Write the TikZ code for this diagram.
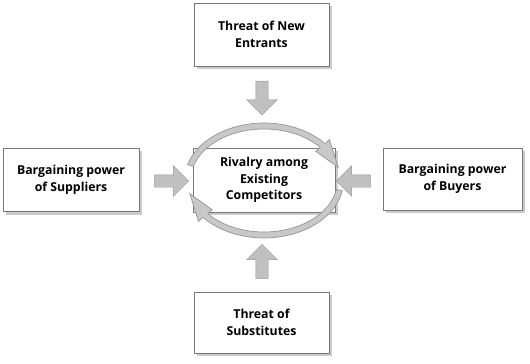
\documentclass[tikz,border=0pt]{standalone}
\usepackage{fontspec}
\setmainfont{Open Sans}
\usetikzlibrary{shapes.arrows,shadows}

\definecolor{boxline}{RGB}{120,120,120}
\definecolor{arrowfill}{RGB}{192,192,192}
\definecolor{arrowline}{RGB}{150,150,150}
\definecolor{ringfill}{RGB}{200,200,200}

% curved arrow round the centre box: start angle, head base, tip
\newcommand{\rivalryring}[3]{
	\filldraw[ringpart] plot[domain=#1:#2, samples=40] ({264+79.5*cos(\x)}, {180.5+57.5*sin(\x)})
		-- ({264+85.5*cos(#2)}, {180.5+63.5*sin(#2)})
		-- ({264+76.5*cos(#3)}, {180.5+54.5*sin(#3)})
		-- ({264+67.5*cos(#2)}, {180.5+45.5*sin(#2)})
		-- plot[domain=#2:#1, samples=40] ({264+73.5*cos(\x)}, {180.5+51.5*sin(\x)}) -- cycle;
}

\tikzset{
	force/.style={draw=boxline, fill=white, align=center, minimum width=4.05cm, minimum height=1.9cm,
		font=\bfseries\fontsize{10.5}{14}\selectfont,
		drop shadow={shadow xshift=2.5pt, shadow yshift=-2.5pt, fill=black!45, opacity=0.45}},
	pusharrow/.style={single arrow, draw=arrowline, fill=arrowfill, inner sep=0.18cm,
		single arrow head extend=0.27cm, minimum height=1.02cm},
	ringpart/.style={draw=arrowline, fill=ringfill, line width=0.6pt}
}

\begin{document}
\begin{tikzpicture}[x=0.03cm, y=-0.03cm]
	\useasboundingbox (0,0) rectangle (530,364);
	% five forces
	\node[force] (entrants) at (261.5,34.5) {Threat of New\\Entrants};
	\node[force, minimum width=4.26cm, minimum height=1.92cm] (rivalry) at (264,180) {Rivalry among\\Existing\\Competitors};
	\node[force, minimum width=4.08cm] (suppliers) at (71,180) {Bargaining power\\of Suppliers};
	\node[force, minimum width=4.17cm, minimum height=1.86cm] (buyers) at (452.5,179) {Bargaining power\\of Buyers};
	\node[force, minimum height=1.83cm] (substitutes) at (261.5,322.5) {Threat of\\Substitutes};
	% block arrows towards the centre
	\node[pusharrow, shape border rotate=270] (fromentrants) at (262,95) {};
	\node[pusharrow, shape border rotate=0] (fromsuppliers) at (168.5,181) {};
	\node[pusharrow, shape border rotate=180] (frombuyers) at (356.5,181) {};
	\node[pusharrow, shape border rotate=90] (fromsubstitutes) at (262,264.5) {};
	% rivalry cycle
	\rivalryring{196}{320}{346}
	\rivalryring{10}{140}{166}
\end{tikzpicture}
\end{document}
